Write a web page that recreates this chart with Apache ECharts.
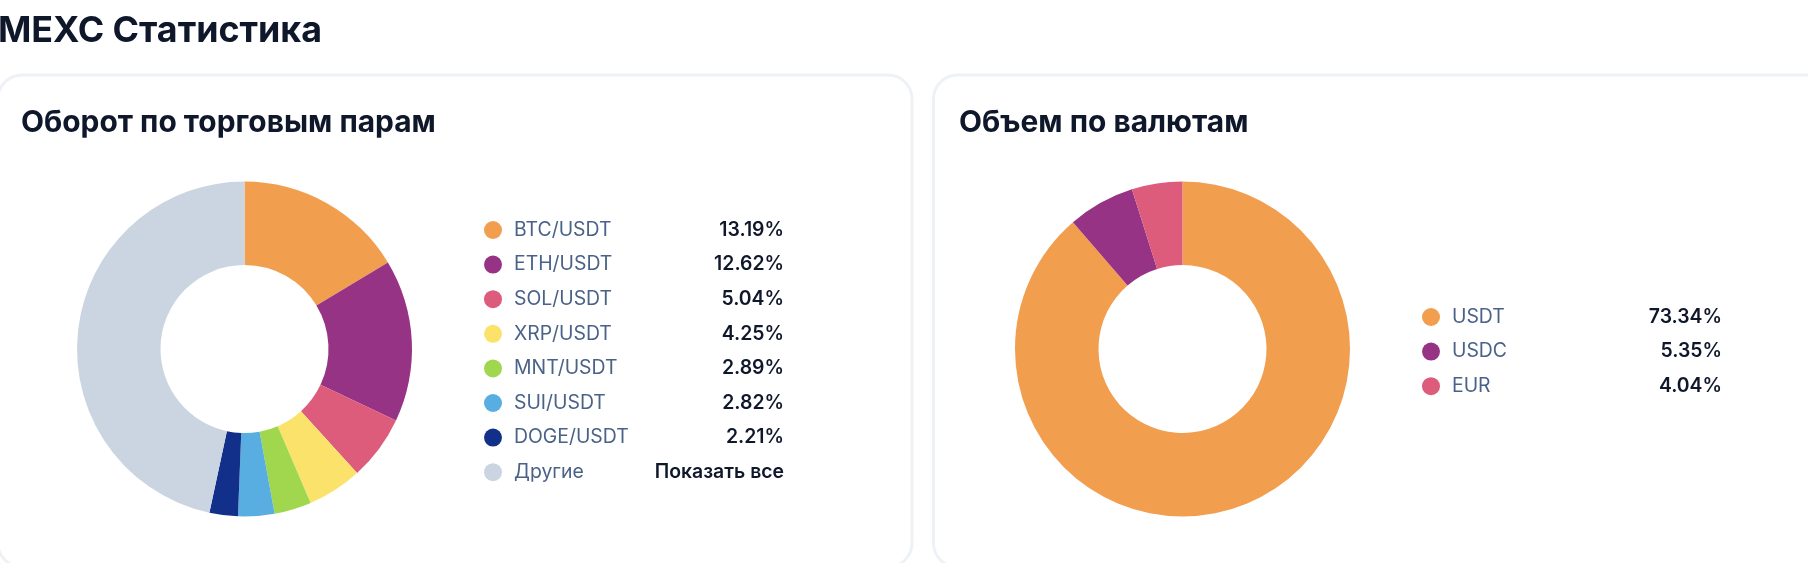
<!DOCTYPE html>
<html>
<head>
<meta charset="utf-8">
<style>
  html, body { margin: 0; padding: 0; background: #fff; overflow: hidden; }
  #main { width: 1808px; height: 563px; }
</style>
<script src="https://cdn.jsdelivr.net/npm/echarts@6/dist/echarts.min.js"></script>
</head>
<body>
<div id="main"></div>
<script>
// пары
const pairNames = ['BTC/USDT', 'ETH/USDT', 'SOL/USDT', 'XRP/USDT', 'MNT/USDT', 'SUI/USDT', 'DOGE/USDT', 'Другие'];
const pairValues = [13.19, 12.62, 5.04, 4.25, 2.89, 2.82, 2.21, 37.6];
const pairLabels = ['13.19%', '12.62%', '5.04%', '4.25%', '2.89%', '2.82%', '2.21%', 'Показать все'];
const pairColors = ['#f29e4f', '#973385', '#dd5b7b', '#fbe36b', '#a1d74f', '#58ade1', '#12308a', '#cbd5e1'];

// валюты
const currencyNames = ['USDT', 'USDC', 'EUR'];
const currencyValues = [73.34, 5.35, 4.04];
const currencyLabels = ['73.34%', '5.35%', '4.04%'];
const currencyColors = ['#f29e4f', '#973385', '#dd5b7b'];

const FONT = 'Inter, "Noto Sans", sans-serif';

function toData(names, values, colors) {
  return names.map((name, i) => ({ name, value: values[i], itemStyle: { color: colors[i] } }));
}

function makeLegend(names, labels, left, top) {
  return {
    show: true,
    orient: 'vertical',
    left: left,
    top: top,
    padding: 0,
    icon: 'circle',
    itemWidth: 18,
    itemHeight: 18,
    itemGap: 14.6,
    selectedMode: false,
    data: names,
    formatter: name => `{n|${name}}{v|${labels[names.indexOf(name)]}}`,
    textStyle: {
      fontFamily: FONT,
      rich: {
        n: { width: 130, height: 20, lineHeight: 20, padding: [0, 0, 0, 7], fontFamily: FONT, fontSize: 19.4, color: '#4a6288', align: 'left' },
        v: { width: 140, height: 20, lineHeight: 20, fontFamily: FONT, fontSize: 19.4, fontWeight: 600, color: '#0f172a', align: 'right' }
      }
    }
  };
}

function makePie(name, center, data) {
  return {
    type: 'pie',
    name: name,
    center: center,
    radius: [84, 167.5],
    startAngle: 90,
    clockwise: true,
    silent: true,
    label: { show: false },
    labelLine: { show: false },
    emphasis: { disabled: true },
    data: data
  };
}

const chart = echarts.init(document.getElementById('main'), null, { renderer: 'canvas', width: 1808, height: 563 });

chart.setOption({
  animation: false,
  backgroundColor: '#fff',
  title: [
    { text: 'MEXC Статистика', left: -2, top: 13, padding: 0,
      textStyle: { fontFamily: FONT, fontSize: 35.8, fontWeight: 700, color: '#0f172a' } },
    { text: 'Оборот по торговым парам', left: 21, top: 108, padding: 0,
      textStyle: { fontFamily: FONT, fontSize: 29.9, fontWeight: 700, color: '#0f172a' } },
    { text: 'Объем по валютам', left: 959, top: 108, padding: 0,
      textStyle: { fontFamily: FONT, fontSize: 29.9, fontWeight: 700, color: '#0f172a' } }
  ],
  graphic: [
    { type: 'rect', z: -1, shape: { x: -2, y: 75, width: 914, height: 492, r: 24 },
      style: { fill: '#fff', stroke: '#eef2f6', lineWidth: 3 } },
    { type: 'rect', z: -1, shape: { x: 933.5, y: 75, width: 920, height: 492, r: 24 },
      style: { fill: '#fff', stroke: '#eef2f6', lineWidth: 3 } }
  ],
  legend: [
    makeLegend(pairNames, pairLabels, 484, 220),
    makeLegend(currencyNames, currencyLabels, 1422, 307)
  ],
  series: [
    makePie('Оборот по торговым парам', [244.5, 349], toData(pairNames, pairValues, pairColors)),
    makePie('Объем по валютам', [1182.5, 349], toData(currencyNames, currencyValues, currencyColors))
  ]
});
</script>
</body>
</html>
